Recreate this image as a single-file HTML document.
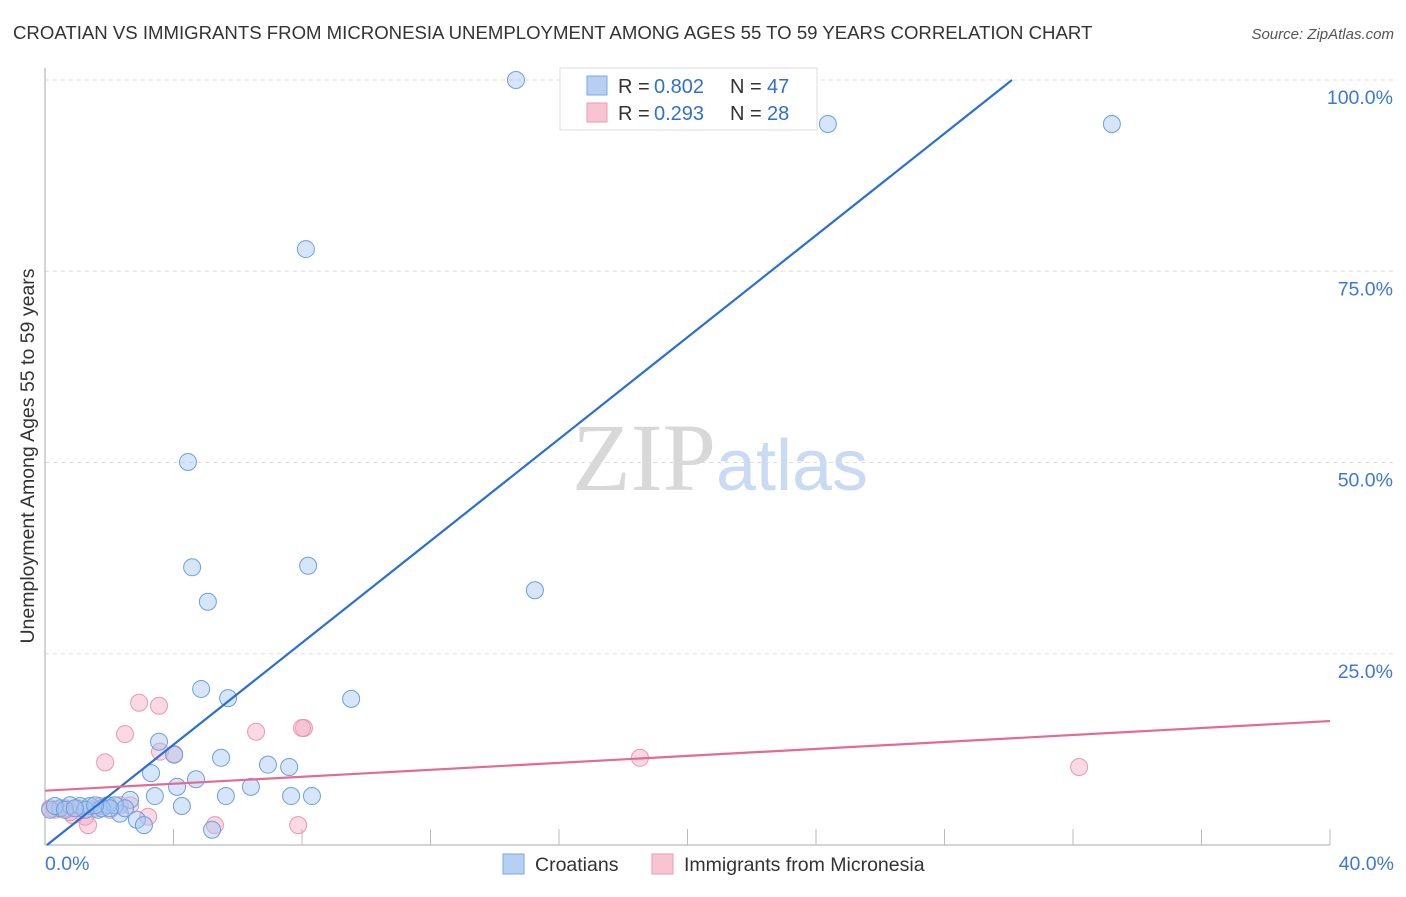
<!DOCTYPE html>
<html><head><meta charset="utf-8"><style>
body{margin:0;background:#fff;font-family:"Liberation Sans",sans-serif;}
svg text{font-family:"Liberation Sans",sans-serif;}
</style></head><body>
<svg id="chart" width="1406" height="892" xmlns="http://www.w3.org/2000/svg">
<text x="13" y="39" font-size="18.6" fill="#333">CROATIAN VS IMMIGRANTS FROM MICRONESIA UNEMPLOYMENT AMONG AGES 55 TO 59 YEARS CORRELATION CHART</text>
<text x="1394" y="39" font-size="15" fill="#555" font-style="italic" text-anchor="end">Source: ZipAtlas.com</text>
<text x="720" y="490" font-size="96" text-anchor="middle"><tspan fill="#d8d8d8" font-family="Liberation Serif">ZIP</tspan><tspan fill="#c9daf3" font-size="72">atlas</tspan></text>
<g id="grid"></g>
<g id="axes"></g>
<text transform="translate(34,456) rotate(-90)" font-size="19.5" fill="#333" text-anchor="middle">Unemployment Among Ages 55 to 59 years</text>
<g id="lines"></g>
<g id="points"></g>
<g>
<rect x="560" y="68" width="257" height="62" fill="#fff" stroke="#ddd"/>
<rect x="587" y="76" width="20" height="19" fill="#b5d0f3" stroke="#7aa8e6"/>
<text x="618" y="93" font-size="20" fill="#333">R =</text>
<text x="654" y="93" font-size="20" fill="#2f6fd6">0.802</text>
<text x="730" y="93" font-size="20" fill="#333">N =</text>
<text x="767" y="93" font-size="20" fill="#2f6fd6">47</text>
<rect x="587" y="103" width="20" height="19" fill="#f8c4d4" stroke="#eb9bb5"/>
<text x="618" y="120" font-size="20" fill="#333">R =</text>
<text x="654" y="120" font-size="20" fill="#2f6fd6">0.293</text>
<text x="730" y="120" font-size="20" fill="#333">N =</text>
<text x="767" y="120" font-size="20" fill="#2f6fd6">28</text>
</g>
<g>
<rect x="503" y="854" width="21" height="20" fill="#b5d0f3" stroke="#7aa8e6"/>
<text x="535" y="871" font-size="19.5" fill="#333">Croatians</text>
<rect x="652" y="854" width="21" height="20" fill="#f8c4d4" stroke="#eb9bb5"/>
<text x="684" y="871" font-size="19.5" fill="#333">Immigrants from Micronesia</text>
</g>
</svg>
<script>
const yTicks=[25,50,75,100];
const yTickLabels=["25.0%","50.0%","75.0%","100.0%"];
const xTickLabels=["0.0%","40.0%"];
const blueX=[14.66,24.37,33.21,8.12,4.45,4.58,8.19,5.07,15.25,4.86,5.70,9.53,3.55,4.02,5.48,6.94,7.60,3.30,4.70,4.11,6.41,3.42,5.63,7.66,8.31,4.26,2.65,2.86,3.08,5.20,2.33,1.65,1.96,1.09,0.47,0.16,0.78,1.40,2.18,2.49,0.31,0.62,1.77,2.02,1.25,0.93,1.56];
const blueY=[100,94.25,94.25,77.9,50.07,36.3,36.5,31.8,33.3,20.4,19.2,19.1,13.5,11.8,11.4,10.5,10.2,9.4,8.6,7.6,7.6,6.4,6.4,6.4,6.4,5.1,5.9,3.3,2.6,2.0,4.1,4.6,5.2,5.1,4.8,4.6,5.2,5.1,5.2,4.8,5.1,4.6,4.8,4.8,4.6,4.8,5.2];
const pinkX=[32.19,18.52,8.06,8.00,6.57,2.93,3.55,2.49,1.87,4.02,3.58,3.21,2.65,5.29,7.88,1.34,1.25,0.87,0.47,0.16,0.31,0.62,1.03,1.56,2.02,2.33,0.78,1.71];
const pinkY=[10.2,11.4,15.3,15.3,14.8,18.6,18.2,14.5,10.8,11.9,12.2,3.7,5.2,2.6,2.6,2.6,3.7,3.9,4.8,4.8,4.6,4.8,4.8,4.8,4.6,5.2,4.3,5.1];
const blueTrend=[[0.06,0],[30.1,100]];
const pinkTrend=[[0,7.1],[40,16.2]];
const NS="http://www.w3.org/2000/svg";
const X=v=>45+v/40*1285;
const Y=v=>845-v/100*765;
function mk(tag,attrs,parent){const e=document.createElementNS(NS,tag);for(const k in attrs)e.setAttribute(k,attrs[k]);parent.appendChild(e);return e;}
const grid=document.getElementById('grid'),axes=document.getElementById('axes'),lines=document.getElementById('lines'),pts=document.getElementById('points');
yTicks.forEach((t,i)=>{
 const l=mk('line',{x1:45,x2:1394,y1:Y(t),y2:Y(t),stroke:'#ddd','stroke-dasharray':'4,4'},grid);
 
 
 const tx=mk('text',{x:1393,y:Y(t)+24,'font-size':19.5,fill:'#3c78d8','text-anchor':'end'},grid);tx.textContent=yTickLabels[i];
 
 
});
const ax=mk('line',{x1:45,x2:45,y1:68,y2:845,stroke:'#aaa'},axes);


const bx=mk('line',{x1:45,x2:1330,y1:845,y2:845,stroke:'#aaa'},axes);


for(let i=1;i<=10;i++){const t=mk('line',{x1:X(i*4),x2:X(i*4),y1:829,y2:845,stroke:'#bbb'},axes);
 
 }
[[0,'start',45],[40,'end',1394]].forEach((d,i)=>{const t=mk('text',{x:d[2],y:870,'font-size':19.5,fill:'#3c78d8','text-anchor':d[1]},axes);t.textContent=xTickLabels[i];
 
 });
function drawPts(xs,ys,fill,stroke,name){xs.forEach((x,i)=>{const c=mk('circle',{cx:X(x),cy:Y(ys[i]),r:8.5,fill:fill,stroke:stroke,'stroke-width':1},pts);
 
 });}
drawPts(pinkX,pinkY,'rgba(245,170,195,0.45)','#ea98b2','micronesia-point');
drawPts(blueX,blueY,'rgba(164,200,240,0.45)','#6b9fe2','croatian-point');
const bl=mk('line',{x1:X(blueTrend[0][0]),y1:Y(blueTrend[0][1]),x2:X(blueTrend[1][0]),y2:Y(blueTrend[1][1]),stroke:'#2a6fd6','stroke-width':2.2},lines);


const pl=mk('line',{x1:X(pinkTrend[0][0]),y1:Y(pinkTrend[0][1]),x2:X(pinkTrend[1][0]),y2:Y(pinkTrend[1][1]),stroke:'#e46a94','stroke-width':2.2},lines);


document.getElementById('chart').appendChild(lines);
</script>
</body></html>
